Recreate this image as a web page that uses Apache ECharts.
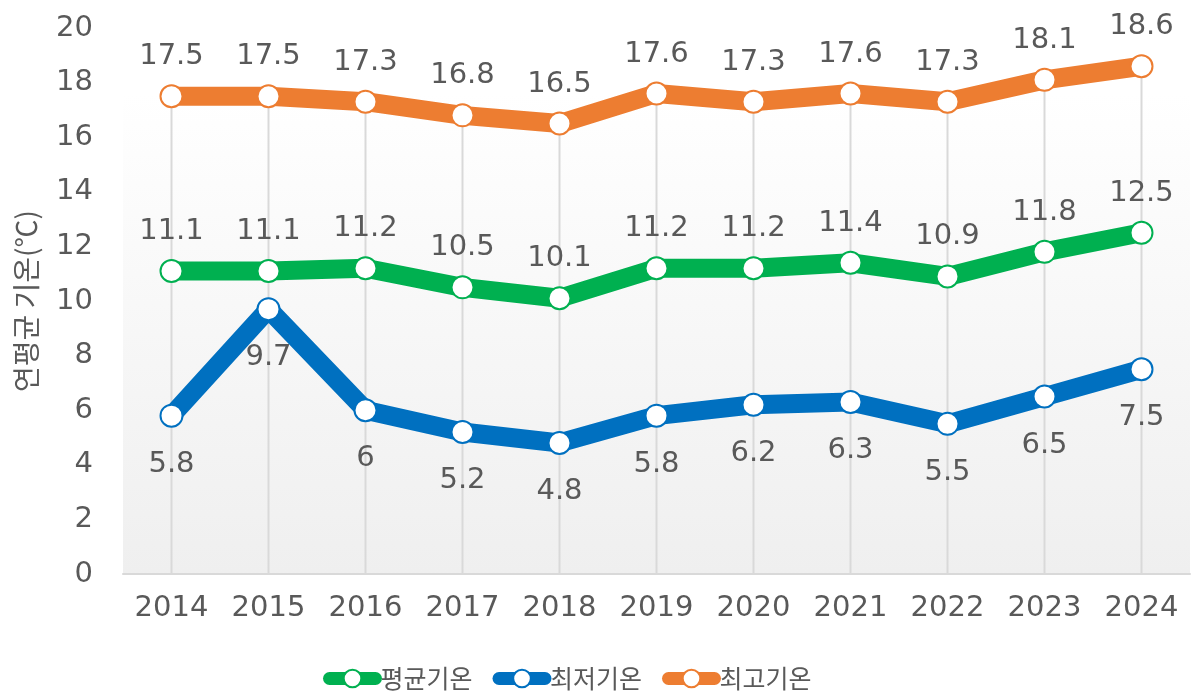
<!DOCTYPE html>
<html><head><meta charset="utf-8">
<script src="https://cdn.jsdelivr.net/npm/echarts@6/dist/echarts.min.js"></script>
<style>html,body{margin:0;padding:0;background:#fff}#c{width:1192px;height:696px}</style>
</head><body><div id="c"></div>
<script>
const categories = ['2014','2015','2016','2017','2018','2019','2020','2021','2022','2023','2024'];
const avgTemp = [11.1, 11.1, 11.2, 10.5, 10.1, 11.2, 11.2, 11.4, 10.9, 11.8, 12.5];
const minTemp = [5.8, 9.7, 6, 5.2, 4.8, 5.8, 6.2, 6.3, 5.5, 6.5, 7.5];
const maxTemp = [17.5, 17.5, 17.3, 16.8, 16.5, 17.6, 17.3, 17.6, 17.3, 18.1, 18.6];
const seriesNames = ['평균기온', '최저기온', '최고기온'];
const yAxisName = '연평균 기온(℃)';

const NUMFONT = '"DejaVu Sans", "Noto Sans CJK KR", sans-serif';
const KRFONT = '"Noto Sans CJK KR", "Noto Sans", sans-serif';
const TXT = '#595959';
function mk(name, data, color, pos, dist) {
  return {
    name, type: 'line', data,
    symbol: 'circle', symbolSize: 22,
    lineStyle: { color, width: 19 },
    itemStyle: { color: '#fff', borderColor: color, borderWidth: 2 },
    label: { show: true, position: pos, distance: dist, color: TXT, fontSize: 29, fontFamily: NUMFONT },
    emphasis: { disabled: true },
    z: 3
  };
}
const chart = echarts.init(document.getElementById('c'));
chart.setOption({
  animation: false,
  textStyle: { fontFamily: KRFONT },
  grid: {
    left: 123, right: 2, top: 28, bottom: 122, show: true, borderWidth: 0,
    backgroundColor: new echarts.graphic.LinearGradient(0, 0, 0, 1, [
      { offset: 0, color: '#ffffff' }, { offset: 0.12, color: '#ffffff' }, { offset: 1, color: '#efefef' }])
  },
  legend: {
    left: 318, bottom: 0, itemWidth: 46, itemHeight: 22, itemGap: 20,
    lineStyle: { width: 13, cap: 'round' },
    textStyle: { color: TXT, fontSize: 25, fontFamily: KRFONT },
    data: seriesNames
  },
  xAxis: {
    type: 'category', data: categories, boundaryGap: true,
    axisLine: { lineStyle: { color: '#d9d9d9', width: 2 } },
    axisTick: { show: false },
    axisLabel: { color: TXT, fontSize: 29, fontFamily: NUMFONT, margin: 20 },
    splitLine: { show: false }
  },
  yAxis: {
    type: 'value', min: 0, max: 20, interval: 2,
    name: yAxisName, nameLocation: 'middle', nameGap: 83, nameRotate: 90,
    nameTextStyle: { color: TXT, fontSize: 28, fontFamily: KRFONT },
    axisLine: { show: false }, axisTick: { show: false },
    axisLabel: { color: TXT, fontSize: 29, fontFamily: NUMFONT, margin: 30 },
    splitLine: { show: false }
  },
  series: [
    {
      name: 'dropLines', type: 'bar', data: maxTemp, barWidth: 2, silent: true,
      itemStyle: { color: '#d9d9d9' }, z: 1, emphasis: { disabled: true }
    },
    mk(seriesNames[0], avgTemp, '#00b050', 'top', 13),
    mk(seriesNames[1], minTemp, '#0070c0', 'bottom', 22),
    mk(seriesNames[2], maxTemp, '#ed7d31', 'top', 13)
  ]
});
</script></body></html>
